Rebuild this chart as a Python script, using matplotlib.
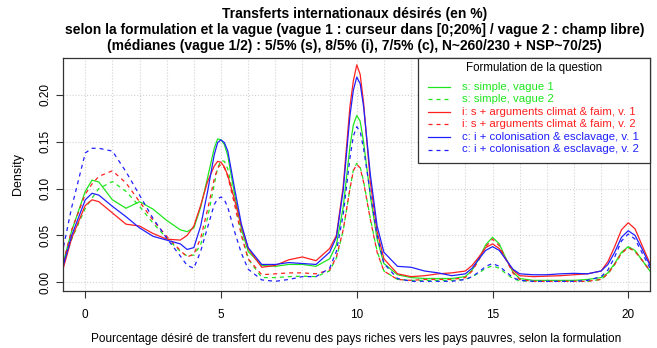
import matplotlib
matplotlib.use("Agg")
import matplotlib.pyplot as plt
from matplotlib.lines import Line2D
from matplotlib.patches import Rectangle

plt.rcParams["font.family"] = ["Liberation Sans", "DejaVu Sans"]

# densities, on a shared x grid
x = [-0.8, -0.5, 0, 0.25, 0.5, 1, 1.5, 2, 2.5, 3, 3.5, 3.75, 4, 4.25, 4.5,
     4.75, 4.875, 5, 5.125, 5.25, 5.5, 5.75, 6, 6.5, 7, 7.5, 8, 8.5, 9, 9.25, 9.5, 9.75,
     9.875, 10, 10.125, 10.25, 10.5, 10.75, 11, 11.5, 12, 12.5, 13, 13.5, 14, 14.25, 14.5, 14.75,
     15, 15.25, 15.5, 15.75, 16, 16.5, 17, 17.5, 18, 18.5, 19, 19.25, 19.5, 19.75,
     20, 20.25, 20.5, 20.8]

s_v1 = [0.022, 0.055, 0.097, 0.109, 0.107, 0.088, 0.079, 0.086, 0.078, 0.066, 0.056, 0.054, 0.058, 0.080, 0.111,
        0.143, 0.153, 0.152, 0.147, 0.135, 0.094, 0.057, 0.033, 0.018, 0.017, 0.019, 0.019, 0.017, 0.025, 0.040, 0.080, 0.145,
        0.168, 0.178, 0.172, 0.150, 0.092, 0.046, 0.020, 0.008, 0.005, 0.004, 0.004, 0.004, 0.006, 0.013, 0.025, 0.040,
        0.048, 0.041, 0.025, 0.011, 0.004, 0.002, 0.002, 0.002, 0.002, 0.003, 0.005, 0.010, 0.020, 0.032,
        0.038, 0.034, 0.024, 0.012]
s_v2 = [0.020, 0.046, 0.079, 0.090, 0.100, 0.1075, 0.097, 0.081, 0.063, 0.047, 0.033, 0.028, 0.029, 0.040, 0.068,
        0.104, 0.122, 0.130, 0.129, 0.121, 0.086, 0.052, 0.025, 0.005, 0.005, 0.006, 0.0065, 0.006, 0.012, 0.026, 0.055, 0.100,
        0.120, 0.127, 0.123, 0.108, 0.068, 0.033, 0.012, 0.003, 0.002, 0.002, 0.002, 0.002, 0.003, 0.006, 0.010, 0.015,
        0.0175, 0.015, 0.009, 0.004, 0.0015, 0.001, 0.001, 0.001, 0.001, 0.001, 0.003, 0.009, 0.019, 0.031,
        0.037, 0.033, 0.024, 0.012]
i_v1 = [0.016, 0.047, 0.082, 0.088, 0.086, 0.074, 0.062, 0.060, 0.052, 0.046, 0.045, 0.050, 0.060, 0.082, 0.107,
        0.124, 0.129, 0.128, 0.123, 0.114, 0.088, 0.060, 0.036, 0.016, 0.018, 0.024, 0.027, 0.023, 0.036, 0.050, 0.102, 0.188,
        0.215, 0.232, 0.222, 0.192, 0.107, 0.054, 0.025, 0.009, 0.006, 0.007, 0.009, 0.010, 0.012, 0.018, 0.027, 0.037,
        0.041, 0.036, 0.024, 0.013, 0.007, 0.006, 0.0065, 0.007, 0.008, 0.009, 0.012, 0.022, 0.038, 0.056,
        0.0635, 0.057, 0.040, 0.020]
i_v2 = [0.022, 0.056, 0.094, 0.105, 0.113, 0.119, 0.106, 0.086, 0.066, 0.049, 0.034, 0.027, 0.030, 0.047, 0.077,
        0.110, 0.122, 0.126, 0.122, 0.113, 0.083, 0.050, 0.025, 0.008, 0.009, 0.010, 0.010, 0.009, 0.013, 0.027, 0.056, 0.100,
        0.119, 0.126, 0.122, 0.107, 0.067, 0.032, 0.012, 0.003, 0.002, 0.003, 0.003, 0.003, 0.005, 0.012, 0.024, 0.038,
        0.046, 0.039, 0.024, 0.010, 0.003, 0.001, 0.001, 0.001, 0.001, 0.001, 0.003, 0.009, 0.019, 0.031,
        0.037, 0.033, 0.024, 0.012]
c_v1 = [0.019, 0.050, 0.088, 0.095, 0.093, 0.081, 0.070, 0.058, 0.049, 0.045, 0.041, 0.035, 0.037, 0.060, 0.096,
        0.136, 0.149, 0.152, 0.149, 0.140, 0.100, 0.062, 0.037, 0.019, 0.019, 0.021, 0.020, 0.019, 0.032, 0.048, 0.098, 0.178,
        0.205, 0.219, 0.212, 0.188, 0.115, 0.060, 0.032, 0.017, 0.016, 0.012, 0.010, 0.007, 0.009, 0.015, 0.025, 0.034,
        0.038, 0.034, 0.024, 0.014, 0.009, 0.008, 0.008, 0.009, 0.0095, 0.009, 0.012, 0.019, 0.032, 0.048,
        0.055, 0.050, 0.036, 0.018]
c_v2 = [0.038, 0.080, 0.138, 0.143, 0.143, 0.140, 0.118, 0.093, 0.068, 0.047, 0.028, 0.018, 0.015, 0.033, 0.058,
        0.083, 0.089, 0.091, 0.088, 0.080, 0.054, 0.031, 0.014, 0.0025, 0.001, 0.003, 0.006, 0.006, 0.015, 0.033, 0.072, 0.133,
        0.156, 0.166, 0.161, 0.143, 0.095, 0.050, 0.020, 0.004, 0.001, 0.001, 0.001, 0.001, 0.003, 0.006, 0.011, 0.017,
        0.020, 0.017, 0.011, 0.005, 0.002, 0.001, 0.001, 0.001, 0.001, 0.002, 0.006, 0.013, 0.027, 0.044,
        0.0515, 0.046, 0.032, 0.015]

labels = ["s: simple, vague 1", "s: simple, vague 2",
          "i: s + arguments climat & faim, v. 1", "i: s + arguments climat & faim, v. 2",
          "c: i + colonisation & esclavage, v. 1", "c: i + colonisation & esclavage, v. 2"]
GREEN, RED, BLUE = "#1ee61e", "#ff2020", "#2020ff"
W, H = 657, 348


def fx(px):
    return px / W


def fy(py):
    return 1 - py / H


fig = plt.figure(figsize=(6.57, 3.48), dpi=100)
ax = fig.add_axes([0.0963, 0.1647, 0.893, 0.6687])

series = [(s_v1, GREEN, "-"), (s_v2, GREEN, "--"), (i_v1, RED, "-"),
          (i_v2, RED, "--"), (c_v1, BLUE, "-"), (c_v2, BLUE, "--")]
for ys, col, ls in series:
    line, = ax.plot(x, ys, color=col, lw=0.9)
    if ls == "--":
        line.set_dashes((3.2, 3.2))

ax.set_xlim(-0.81, 20.8)
ax.set_ylim(-0.009, 0.2394)
ax.set_xticks(range(0, 21, 5))
ax.set_yticks([0, 0.05, 0.10, 0.15, 0.20])
ax.set_yticklabels(["0.00", "0.05", "0.10", "0.15", "0.20"], rotation=90, va="center")
ax.set_xticks(range(0, 21), minor=True)
ax.tick_params(which="minor", length=0)
ax.tick_params(which="major", length=5, width=0.8, labelsize=8.5, color="#333333")
ax.tick_params(axis="x", pad=8)
ax.grid(True, which="both", axis="x", color="#d3d3d3", ls=":", lw=0.8)
ax.grid(True, which="major", axis="y", color="#d3d3d3", ls=":", lw=0.8)
for sp in ax.spines.values():
    sp.set_color("#333333")
    sp.set_linewidth(0.9)

ax.set_ylabel("Density", fontsize=9, labelpad=11)
ax.set_xlabel("Pourcentage désiré de transfert du revenu des pays riches vers les pays pauvres, selon la formulation",
              fontsize=8.5, labelpad=9)

fig.text(fx(354.5), 0.981, "Transferts internationaux désirés (en %)\n"
         "selon la formulation et la vague (vague 1 : curseur dans [0;20%] / vague 2 : champ libre)\n"
         "(médianes (vague 1/2) : 5/5% (s), 8/5% (i), 7/5% (c), N~260/230 + NSP~70/25)",
         ha="center", va="top", fontsize=10, fontweight="bold", linespacing=1.22)

# legend box, drawn by hand to match R's spacing
fig.add_artist(Rectangle((fx(418), fy(163)), fx(650) - fx(418), fy(58) - fy(163),
                         transform=fig.transFigure, facecolor="white", edgecolor="#333333", lw=0.9))
fig.text(fx(534), fy(67.5), "Formulation de la question", ha="center", va="center", fontsize=8.3)
for k, ((ys, col, ls), lab) in enumerate(zip(series, labels)):
    yy = 86.5 + 12.6 * k
    h = Line2D([fx(428), fx(450)], [fy(yy), fy(yy)], transform=fig.transFigure, color=col, lw=0.9)
    if ls == "--":
        h.set_dashes((3.2, 3.2))
    fig.add_artist(h)
    fig.text(fx(462), fy(yy), lab, ha="left", va="center", fontsize=8.2, color=col)

fig.savefig("out.png", dpi=100)
